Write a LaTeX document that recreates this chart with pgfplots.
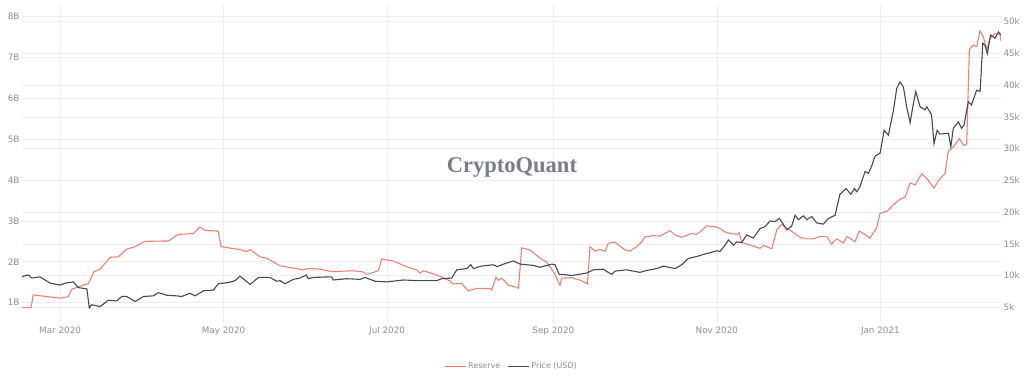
\documentclass[border=0pt]{standalone}
\usepackage{pgfplots}
\usepackage{pgfplotstable}
\pgfplotsset{compat=1.18}
\usepackage{fontspec}
\setmainfont{DejaVu Sans}
\newfontfamily\wmfont{Liberation Serif}
\definecolor{reservec}{RGB}{243,128,114}
\definecolor{pricec}{RGB}{70,74,82}
\definecolor{gridgray}{RGB}{238,238,240}
\definecolor{labelgray}{RGB}{140,144,150}
\definecolor{wmgray}{RGB}{120,125,135}

% x = days since 1 Mar 2020; reserve in billions
\pgfplotstableread{
d r
-14.2 0.88
-10.8 0.88
-10.0 1.19
0 1.11
3.1 1.15
4.4 1.33
10.6 1.47
12.7 1.76
14.9 1.82
18.7 2.11
21.7 2.12
24.9 2.31
28.0 2.37
31.7 2.50
40.4 2.51
44.1 2.67
49.7 2.69
52.2 2.85
54.1 2.77
59.0 2.75
60.1 2.37
67.1 2.30
69.6 2.25
70.9 2.30
74.6 2.12
77.1 2.09
82.1 1.90
85.8 1.86
90.8 1.80
92.6 1.84
97.0 1.82
101.3 1.76
109.4 1.78
113.1 1.75
114.4 1.69
118.7 1.78
120.0 2.07
124.3 2.02
129.3 1.88
133.1 1.80
134.3 1.72
135.5 1.78
140.5 1.68
145.5 1.53
146.7 1.46
149.8 1.47
152.3 1.29
155.4 1.35
160.4 1.35
161.0 1.31
162.6 1.62
163.5 1.55
164.8 1.60
167.2 1.43
170.3 1.38
171.0 1.35
172.2 2.34
175.3 2.29
179.0 2.09
181.5 2.00
184.0 1.76
185.9 1.51
186.5 1.43
187.1 1.60
190.9 1.61
194.0 1.55
196.7 1.46
197.7 2.37
199.6 2.26
201.4 2.30
203.3 2.26
204.5 2.45
207.0 2.48
210.7 2.29
212.6 2.26
215.1 2.37
217.0 2.49
218.2 2.61
221.3 2.64
223.8 2.63
227.5 2.76
229.4 2.66
231.9 2.60
235.6 2.69
237.5 2.67
239.4 2.77
241.2 2.88
245.0 2.85
246.8 2.79
248.7 2.71
252.4 2.67
253.4 2.71
254.3 2.47
257.4 2.41
261.1 2.33
262.4 2.40
265.5 2.32
267.4 2.79
269.2 2.91
271.7 2.80
276.0 2.60
278.5 2.56
281.0 2.56
283.5 2.62
286.0 2.62
287.8 2.43
289.7 2.56
292.2 2.46
293.4 2.61
294.7 2.58
296.5 2.49
298.1 2.75
300.3 2.67
302.1 2.58
304.6 2.83
305.9 3.19
308.4 3.23
310.8 3.39
313.3 3.53
315.2 3.58
317.1 3.93
319.0 3.88
321.4 4.15
323.3 4.04
326.0 3.80
327.6 3.98
330.1 4.16
331.4 4.72
333.2 4.80
335.4 5.01
337.2 4.84
338.2 4.88
339.2 7.19
340.7 7.30
341.9 7.26
343.2 7.65
344.4 7.50
345.7 7.19
346.9 7.46
348.8 7.58
350.6 7.56
351.0 7.40
}\reservetable

% x = days since 1 Mar 2020; price in USD
\pgfplotstableread{
d p
-14.2 9820
-11.8 10100
-10.6 9600
-7.5 9800
-3.7 8800
0 8500
1.9 8800
5.0 9000
6.8 8100
10.0 7900
10.9 4900
11.8 5400
14.9 5100
18.0 6100
21.1 6000
23.0 6700
24.9 6700
28.0 5900
31.1 6700
34.8 6800
36.7 7300
39.8 6900
43.5 6800
45.4 6700
48.5 7200
50.4 6800
53.5 7600
57.2 7700
59.0 8700
62.8 8900
65.3 9200
67.1 9900
70.9 8600
74.0 9700
78.3 9700
80.8 9100
82.1 9200
83.9 8700
87.0 9400
89.5 9600
91.8 10100
92.6 9500
94.5 9700
101.3 9800
101.9 9300
106.9 9500
111.9 9400
113.8 9700
117.5 9100
121.9 9000
128.0 9300
133.1 9200
140.5 9200
142.4 9500
146.1 9600
148.0 10900
151.7 11100
153.2 11700
154.2 11100
157.3 11500
161.6 11700
163.1 11400
165.4 11800
169.1 12300
171.6 11800
176.5 11600
179.0 11300
183.4 11800
184.6 11700
186.2 10200
189.0 10100
190.9 10000
196.5 10400
198.9 10900
202.6 11000
204.5 10500
205.8 10200
207.0 10700
211.4 10900
216.3 10500
218.8 10800
222.6 11100
225.0 11500
229.4 11100
231.9 11700
234.4 12700
237.5 13000
240.6 13400
245.0 13900
246.2 13800
248.1 14800
249.3 15600
251.2 14800
252.4 15300
254.3 15200
256.1 16400
258.6 15900
261.1 17400
263.0 17700
264.8 18600
266.7 18500
268.3 19000
269.6 18200
271.1 17200
272.9 17800
274.2 19500
275.4 18800
277.3 19400
278.5 18800
280.4 19300
282.2 18300
284.7 18100
286.6 19000
289.1 19500
290.9 22800
293.2 23700
295.0 22800
296.3 23700
297.2 23200
298.4 24000
300.3 26400
301.5 26100
302.8 27300
304.0 28800
305.9 29300
307.4 32900
309.0 32100
310.9 36100
312.1 39500
313.3 40500
314.6 39700
315.8 36600
317.1 34100
318.1 36600
319.2 39000
320.8 36600
322.6 36100
323.3 36600
325.1 35300
326.0 30800
327.2 32900
328.2 32300
331.4 32400
332.3 30300
333.2 33200
335.1 34200
336.3 33200
337.2 33700
338.8 37400
340.0 36900
341.9 39200
343.2 39000
344.2 46600
345.0 46300
345.9 45000
347.1 47900
348.8 47400
350.0 48400
351.0 47900
}\pricetable

\pgfplotsset{
  basestyle/.style={
    scale only axis, width=979pt, height=317pt,
    xmin=-14.2, xmax=351,
    axis line style={draw=none},
    major tick length=0pt,
    tick label style={font=\fontsize{8.8}{10}\selectfont, text=labelgray},
    grid style={gridgray, line width=0.6pt},
    scaled y ticks=false,
  },
}

\begin{document}
\begin{tikzpicture}
\begin{axis}[basestyle,
  ymin=0.528, ymax=8.279,
  ytick={1,2,3,4,5,6,7,8},
  yticklabels={1B,2B,3B,4B,5B,6B,7B,8B},
  extra y ticks={0.888,1.664,2.440,3.216,3.991,4.767,5.543,6.319,7.095,7.871},
  extra y tick labels={},
  extra tick style={grid=major, major tick length=0pt},
  xtick={0,61,122,184,245,306},
  xticklabels={Mar 2020,May 2020,Jul 2020,Sep 2020,Nov 2020,Jan 2021},
  xmajorgrids, ymajorgrids,
  yticklabel style={xshift=1pt},
  xticklabel style={yshift=-1pt},
]
\node[font=\wmfont\bfseries\fontsize{22.5}{26}\selectfont, text=wmgray] at (rel axis cs:0.5005,0.486) {CryptoQuant};
\addplot[reservec, line width=1.1pt] table[x=d, y=r] {\reservetable};
\end{axis}
\begin{axis}[basestyle,
  ymin=2680, ymax=52630,
  ytick={5000,10000,15000,20000,25000,30000,35000,40000,45000,50000},
  yticklabels={5k,10k,15k,20k,25k,30k,35k,40k,45k,50k},
  yticklabel pos=right,
  xtick=\empty,
  yticklabel style={xshift=-1pt},
  legend columns=2,
  legend style={draw=none, fill=none, at={(0.5,-0.139)}, anchor=center,
    font=\fontsize{8}{9}\selectfont, text=labelgray,
    /tikz/every even column/.append style={column sep=5pt}},
  legend image code/.code={\draw[#1] (0pt,0pt) -- (21pt,0pt);},
]
\addlegendimage{reservec, line width=1pt}
\addlegendentry{Reserve}
\addplot[pricec, line width=1.1pt] table[x=d, y=p] {\pricetable};
\addlegendentry{Price (USD)}
\end{axis}
\pgfresetboundingbox
\useasboundingbox (-22pt,-55pt) rectangle (1002pt,322pt);
\end{tikzpicture}
\end{document}
